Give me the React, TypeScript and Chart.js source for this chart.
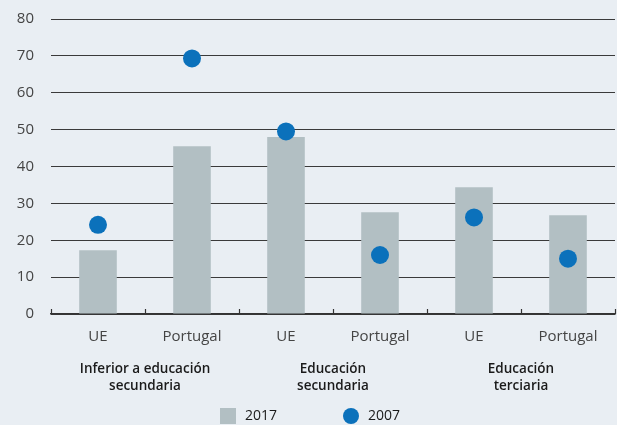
import React, { useEffect, useRef } from "react";
import { Chart, registerables } from "chart.js";

Chart.register(...registerables);

const categories = ["UE", "Portugal", "UE", "Portugal", "UE", "Portugal"];
const groupLabels = [
  ["Inferior a educación", "secundaria"],
  ["Educación", "secundaria"],
  ["Educación", "terciaria"],
];
const values2017 = [17.3, 45.5, 48, 27.6, 34.4, 26.8];
const values2007 = [24.2, 69.3, 49.5, 16, 26.2, 15];
const yTicks = [0, 10, 20, 30, 40, 50, 60, 70, 80];
const seriesNames = ["2017", "2007"];

const BG = "#e9eef3";
const BAR = "#b2bfc3";
const DOT = "#0b71bb";
const FONT = "'Open Sans', sans-serif";

const extrasPlugin = {
  id: "extras",
  afterDraw(chart: any) {
    const { ctx, chartArea } = chart;
    const x = chart.scales.x;
    const n = categories.length;
    const w = (chartArea.right - chartArea.left) / n;
    ctx.save();
    ctx.strokeStyle = "#333";
    ctx.lineWidth = 1.2;
    for (let i = 0; i <= n; i++) {
      const px = Math.round(chartArea.left + i * w) + 0.5;
      ctx.beginPath();
      ctx.moveTo(px, chartArea.bottom);
      ctx.lineTo(px, chartArea.bottom - 5);
      ctx.stroke();
    }
    ctx.fillStyle = "#1a1a1a";
    ctx.font = `600 13.5px ${FONT}`;
    ctx.textAlign = "center";
    ctx.textBaseline = "middle";
    groupLabels.forEach((lines, g) => {
      const cx = (x.getPixelForValue(g * 2) + x.getPixelForValue(g * 2 + 1)) / 2;
      lines.forEach((t, li) => {
        ctx.fillText(t, cx, chartArea.bottom + 55 + li * 17);
      });
    });
    const ly = chartArea.bottom + 102;
    ctx.fillStyle = BAR;
    ctx.fillRect(220, ly - 8, 16, 16);
    ctx.fillStyle = DOT;
    ctx.beginPath();
    ctx.arc(351, ly, 8, 0, Math.PI * 2);
    ctx.fill();
    ctx.fillStyle = "#1a1a1a";
    ctx.font = `500 14px ${FONT}`;
    ctx.textAlign = "left";
    ctx.fillText(seriesNames[0], 245, ly);
    ctx.fillText(seriesNames[1], 368, ly);
    ctx.restore();
  },
};

export default function App() {
  const ref = useRef<HTMLCanvasElement | null>(null);
  useEffect(() => {
    document.body.style.margin = "0";
    const chart = new Chart(ref.current!, {
      type: "bar",
      data: {
        labels: categories,
        datasets: [
          {
            type: "line",
            label: seriesNames[1],
            data: values2007,
            showLine: false,
            pointRadius: 9,
            pointHoverRadius: 9,
            pointBackgroundColor: DOT,
            pointBorderWidth: 0,
            borderColor: DOT,
            backgroundColor: DOT,
            order: 0,
          } as any,
          {
            type: "bar",
            label: seriesNames[0],
            data: values2017,
            backgroundColor: BAR,
            barPercentage: 0.4,
            categoryPercentage: 1,
            order: 1,
          },
        ],
      },
      options: {
        animation: false,
        responsive: false,
        maintainAspectRatio: false,
        layout: { autoPadding: false, padding: { top: 19, right: 2, left: 0, bottom: 0 } },
        plugins: { legend: { display: false }, tooltip: { enabled: false } },
        scales: {
          x: {
            offset: true,
            grid: { display: false, drawTicks: false },
            border: { display: true, color: "#333", width: 1.5 },
            ticks: {
              color: "#444",
              font: { family: FONT, size: 15 },
              padding: 14,
              maxRotation: 0,
            },
            afterFit(scale: any) {
              scale.height = 111;
              scale.paddingLeft = 0;
              scale.paddingRight = 0;
            },
          },
          y: {
            min: 0,
            max: 80,
            afterBuildTicks(scale: any) {
              scale.ticks = yTicks.map((v) => ({ value: v }));
            },
            grid: { color: "#3a3a3a", lineWidth: 1, drawTicks: false },
            border: { display: false },
            ticks: {
              color: "#444",
              font: { family: FONT, size: 15 },
              padding: 17,
            },
            afterFit(scale: any) {
              scale.width = 51;
              scale.paddingTop = 0;
              scale.paddingBottom = 0;
            },
          },
        },
      },
      plugins: [extrasPlugin],
    });
    return () => chart.destroy();
  }, []);
  return (
    <div style={{ width: 617, height: 425, background: BG }}>
      <canvas ref={ref} width={617} height={425} />
    </div>
  );
}
